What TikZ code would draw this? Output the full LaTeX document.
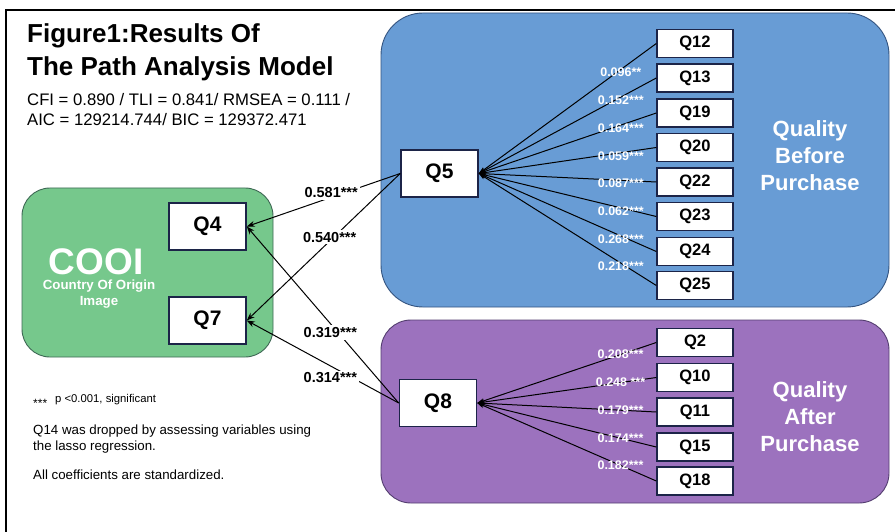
\documentclass[tikz,border=0pt]{standalone}
\usepackage{fontspec}
\setmainfont{Liberation Sans}
\definecolor{qbblue}{RGB}{104,156,213}
\definecolor{qbedge}{RGB}{52,84,128}
\definecolor{qapurple}{RGB}{156,114,190}
\definecolor{qaedge}{RGB}{84,62,112}
\definecolor{cooigreen}{RGB}{118,200,140}
\definecolor{cooiedge}{RGB}{62,104,84}
\definecolor{itemnavy}{RGB}{28,36,72}
\usetikzlibrary{arrows.meta,positioning}

\tikzset{
  groupbox/.style={line width=0.9pt, inner sep=0pt},
  bigitem/.style={draw=itemnavy, line width=1.6pt, fill=white, inner sep=0pt,
        minimum width=77pt, minimum height=47pt, font=\fontsize{21}{24}\selectfont\bfseries},
  smallitem/.style={draw=itemnavy, line width=1.4pt, fill=white, inner sep=0pt,
        minimum width=76pt, minimum height=28pt, font=\fontsize{16.5}{18}\selectfont\bfseries},
  fanarrow/.style={line width=1pt, -{Stealth[length=7pt,width=5pt]}},
  linkarrow/.style={line width=1pt, -{Stealth[length=8pt,width=6pt]}},
  fanlab/.style={text=white, inner sep=0pt, font=\fontsize{12.5}{14}\selectfont\bfseries},
  linklab/.style={fill=white, inner sep=2pt, font=\fontsize{14.5}{16}\selectfont\bfseries},
  grouptitle/.style={text=white, align=center, font=\fontsize{22}{27}\selectfont\bfseries},
}

\begin{document}
\begin{tikzpicture}[x=1pt, y=-1pt]
  \useasboundingbox (0,0) rectangle (895,532);
  % frame of the page
  \draw[line width=2pt] (6,532) -- (6,10) -- (895,10);

  % title and fit indices
  \node[anchor=base west, inner sep=0pt, font=\fontsize{26}{33}\selectfont\bfseries] (title1) at (27,43) {Figure1:Results Of};
  \node[anchor=base west, inner sep=0pt, font=\fontsize{26}{33}\selectfont\bfseries] (title2) at (27,76) {The Path Analysis Model};
  \node[anchor=base west, inner sep=0pt, font=\fontsize{16.7}{20}\selectfont] (fit1) at (27,106) {CFI = 0.890 / TLI = 0.841/ RMSEA = 0.111 /};
  \node[anchor=base west, inner sep=0pt, font=\fontsize{16.7}{20}\selectfont] (fit2) at (27,126) {AIC = 129214.744/ BIC = 129372.471};

  % groups
  \node[groupbox, draw=qbedge, fill=qbblue, rounded corners=42pt, minimum width=508pt, minimum height=294pt] (before) at (635,160) {};
  \node[groupbox, draw=qaedge, fill=qapurple, rounded corners=30pt, minimum width=508pt, minimum height=183pt] (after) at (635,411.5) {};
  \node[groupbox, draw=cooiedge, fill=cooigreen, rounded corners=28pt, minimum width=251pt, minimum height=169pt] (cooi) at (147.5,272.5) {};

  \node[grouptitle] (beforetxt) at (810,156) {Quality\\Before\\Purchase};
  \node[grouptitle] (aftertxt) at (810,417) {Quality\\After\\Purchase};
  \node[anchor=base, inner sep=0pt, text=white, font=\fontsize{37}{40}\selectfont\bfseries] (cooitxt) at (96,274) {COOI};
  \node[anchor=base, inner sep=0pt, text=white, font=\fontsize{13.3}{16}\selectfont\bfseries] (cooisub1) at (99,289) {Country Of Origin};
  \node[anchor=base, inner sep=0pt, text=white, font=\fontsize{13.3}{16}\selectfont\bfseries] (cooisub2) at (99,305) {Image};

  % main items
  \node[bigitem] (q4) at (207.5,226.5) {Q4};
  \node[bigitem] (q7) at (207.5,320.5) {Q7};
  \node[bigitem] (q5) at (439.5,173.5) {Q5};
  \node[bigitem] (q8) at (438,403) {Q8};

  % quality before purchase
  \node[smallitem] (q12) at (695,43.5) {Q12};
  \node[smallitem] (q13) at (695,78) {Q13};
  \node[smallitem] (q19) at (695,113) {Q19};
  \node[smallitem] (q20) at (695,147.5) {Q20};
  \node[smallitem] (q22) at (695,182) {Q22};
  \node[smallitem] (q23) at (695,216.5) {Q23};
  \node[smallitem] (q24) at (695,251.5) {Q24};
  \node[smallitem] (q25) at (695,285.5) {Q25};

  % quality after purchase
  \node[smallitem] (q2) at (695,342.5) {Q2};
  \node[smallitem] (q10) at (695,377.5) {Q10};
  \node[smallitem] (q11) at (695,412) {Q11};
  \node[smallitem] (q15) at (695,447) {Q15};
  \node[smallitem] (q18) at (695,481) {Q18};

  % fans
  \draw[fanarrow] (q12.west) -- node[fanlab, pos=0.2, yshift=-3pt] {0.096**} (q5.east);
  \draw[fanarrow] (q13.west) -- node[fanlab, pos=0.2, yshift=-3pt] {0.152***} (q5.east);
  \draw[fanarrow] (q19.west) -- node[fanlab, pos=0.2, yshift=-3pt] {0.164***} (q5.east);
  \draw[fanarrow] (q20.west) -- node[fanlab, pos=0.2, yshift=-3pt] {0.059***} (q5.east);
  \draw[fanarrow] (q22.west) -- node[fanlab, pos=0.2, yshift=-3pt] {0.087***} (q5.east);
  \draw[fanarrow] (q23.west) -- node[fanlab, pos=0.2, yshift=-3pt] {0.062***} (q5.east);
  \draw[fanarrow] (q24.west) -- node[fanlab, pos=0.2, yshift=-3pt] {0.268***} (q5.east);
  \draw[fanarrow] (q25.west) -- node[fanlab, pos=0.2, yshift=-3pt] {0.218***} (q5.east);

  \draw[fanarrow] (q2.west) -- node[fanlab, pos=0.2] {0.208***} (q8.east);
  \draw[fanarrow] (q10.west) -- node[fanlab, pos=0.2] {0.248 ***} (q8.east);
  \draw[fanarrow] (q11.west) -- node[fanlab, pos=0.2] {0.179***} (q8.east);
  \draw[fanarrow] (q15.west) -- node[fanlab, pos=0.2] {0.174***} (q8.east);
  \draw[fanarrow] (q18.west) -- node[fanlab, pos=0.2] {0.182***} (q8.east);

  % paths to COOI
  \draw[linkarrow] (q5.west) -- node[linklab, pos=0.45, yshift=4.5pt] {0.581***} (q4.east);
  \draw[linkarrow] (q5.west) -- node[linklab, pos=0.46, yshift=4pt] {0.540***} (q7.east);
  \draw[linkarrow] (q8.west) -- node[linklab, pos=0.45, yshift=-9pt] {0.319***} (q4.east);
  \draw[linkarrow] (q8.west) -- node[linklab, pos=0.45, yshift=-12pt] {0.314***} (q7.east);

  % notes
  \node[anchor=base west, inner sep=0pt, font=\fontsize{12}{14}\selectfont] (star) at (33,402.7) {\raisebox{-5pt}{***}};
  \node[anchor=base west, inner sep=0pt, font=\fontsize{11.3}{14}\selectfont] (note1) at (55,402.7) {p <0.001, significant};
  \node[anchor=base west, inner sep=0pt, font=\fontsize{13.3}{16}\selectfont] (note2) at (33,434) {Q14 was dropped by assessing variables using};
  \node[anchor=base west, inner sep=0pt, font=\fontsize{13.3}{16}\selectfont] (note3) at (33,450) {the lasso regression.};
  \node[anchor=base west, inner sep=0pt, font=\fontsize{13.3}{16}\selectfont] (note4) at (33,479) {All coefficients are standardized.};
\end{tikzpicture}
\end{document}
